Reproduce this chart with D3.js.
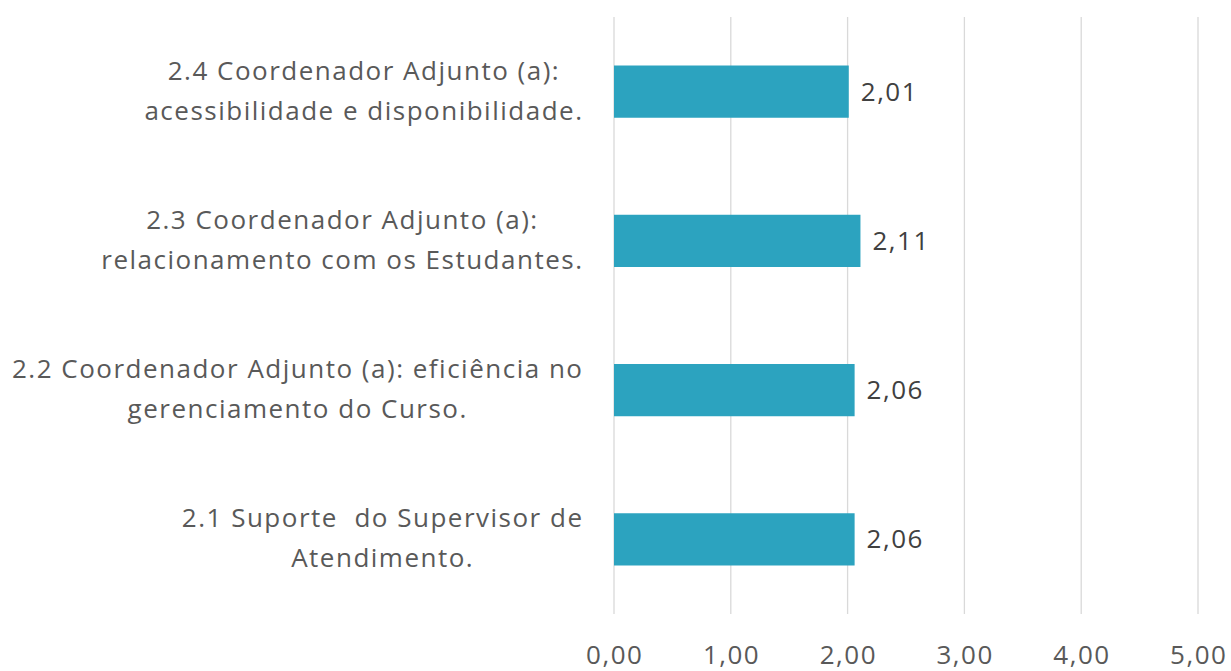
<!DOCTYPE html>
<html><head><meta charset="utf-8">
<script src="https://cdn.jsdelivr.net/npm/d3@7"></script>
<style>body{margin:0;background:#fff;} svg{display:block;} text{white-space:pre;}</style>
</head><body>
<script>
const categories = [
  ["2.4 Coordenador Adjunto (a):", "acessibilidade e disponibilidade."],
  ["2.3 Coordenador Adjunto (a):", "relacionamento com os Estudantes."],
  ["2.2 Coordenador Adjunto (a): eficiência no", "gerenciamento do Curso."],
  ["2.1 Suporte  do Supervisor de", "Atendimento."]
];
const values = [2.01, 2.11, 2.06, 2.06];
const valueLabels = ["2,01", "2,11", "2,06", "2,06"];
const ticks = [0, 1, 2, 3, 4, 5];
const tickLabels = ["0,00", "1,00", "2,00", "3,00", "4,00", "5,00"];

const W = 1231, H = 671;
const font = "'Open Sans', sans-serif";
const LS = 1.5;
const svg = d3.select("body").append("svg").attr("width", W).attr("height", H);

const x = d3.scaleLinear().domain([0, 5]).range([614, 1198]);
const y = d3.scaleBand().domain(d3.range(categories.length)).range([17, 614]).paddingInner(0.65).paddingOuter(0.325);

// gridlines
svg.append("g").selectAll("line").data(ticks).join("line")
  .attr("x1", d => x(d)).attr("x2", d => x(d))
  .attr("y1", 17).attr("y2", 614)
  .attr("stroke", "#d9d9d9").attr("stroke-width", 1.3);

// bars
svg.append("g").selectAll("rect").data(values).join("rect")
  .attr("x", x(0)).attr("y", (d, i) => y(i))
  .attr("width", d => x(d) - x(0)).attr("height", y.bandwidth())
  .attr("fill", "#2ca3bf");

// value labels
svg.append("g").selectAll("text").data(values).join("text")
  .attr("x", d => x(d) + 12).attr("y", (d, i) => y(i) + y.bandwidth() / 2)
  .attr("dy", "0.35em")
  .attr("font-family", font).attr("font-size", 26).attr("letter-spacing", LS).attr("fill", "#404040")
  .text((d, i) => valueLabels[i]);

// category labels (centered block, right edge at 582)
const labG = svg.append("g");
categories.forEach((lines, i) => {
  const t = labG.append("text")
    .attr("font-family", font).attr("font-size", 26).attr("letter-spacing", LS).attr("fill", "#595959")
    .attr("text-anchor", "middle").attr("xml:space", "preserve");
  lines.forEach((l, j) => {
    t.append("tspan").attr("x", 0)
      .attr("y", y(i) + y.bandwidth() / 2 - 1 + (j - (lines.length - 1) / 2) * 40)
      .attr("dy", "0.35em").text(l);
  });
  const bb = t.node().getBBox();
  t.attr("transform", `translate(${582 + LS - bb.width / 2},0)`);
});

// x tick labels
svg.append("g").selectAll("text").data(ticks).join("text")
  .attr("x", d => x(d) + LS / 2).attr("y", 655).attr("dy", "0.35em")
  .attr("text-anchor", "middle")
  .attr("font-family", font).attr("font-size", 26).attr("letter-spacing", LS).attr("fill", "#595959")
  .text((d, i) => tickLabels[i]);
</script>
</body></html>
